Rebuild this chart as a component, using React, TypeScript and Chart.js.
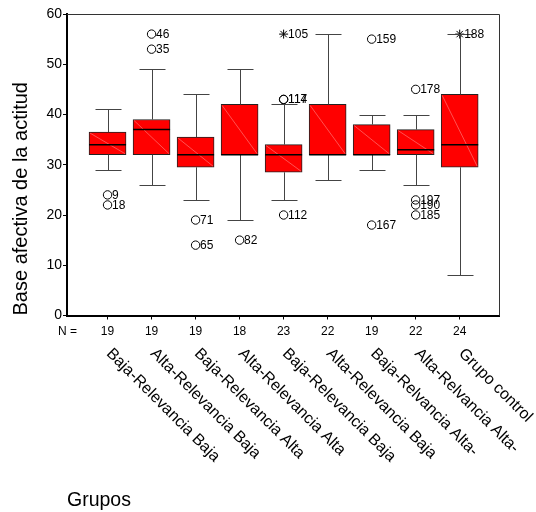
import React, { useEffect, useRef } from 'react';
import { Chart, registerables } from 'chart.js';

Chart.register(...registerables);

const FONT = '"Liberation Sans", Arial, Helvetica, sans-serif';

// ---- data ----
const groups = [
  'Baja-Relevancia Baja',
  'Alta-Relevancia Baja',
  'Baja-Relevancia Alta',
  'Alta-Relevancia Alta',
  'Baja-Relevancia Baja',
  'Alta-Relevancia Baja',
  'Baja-Relvancia Alta-',
  'Alta-Relvancia Alta-',
  'Grupo control',
];
const nCounts = [19, 19, 19, 18, 23, 22, 19, 22, 24];
const whiskerLow = [29, 26, 23, 19, 23, 27, 29, 26, 8];
const q1 = [32, 32, 29.5, 32, 28.5, 32, 32, 32, 29.5];
const median = [34, 37, 32, 32, 32, 32, 32, 33, 34];
const q3 = [36.5, 39, 35.5, 42, 34, 42, 38, 37, 44];
const whiskerHigh = [41, 49, 44, 49, 42, 56, 40, 40, 56];

const outlierGroup = [0, 0, 1, 1, 2, 2, 3, 4, 4, 4, 6, 6, 7, 7, 7, 7];
const outlierValue = [24, 22, 56, 53, 19, 14, 15, 43, 43, 20, 55, 18, 45, 23, 22, 20];
const outlierId = ['9', '18', '46', '35', '71', '65', '82', '117', '114', '112', '159', '167', '178', '197', '190', '185'];

const extremeGroup = [4, 8];
const extremeValue = [56, 56];
const extremeId = ['105', '188'];

const yTicks = [0, 10, 20, 30, 40, 50, 60];
const yTitle = 'Base afectiva de la actitud';
const xTitle = 'Grupos';
const nLabel = 'N =';

const extrasPlugin = {
  id: 'boxExtras',
  afterDatasetsDraw(chart: any) {
    const { ctx, chartArea } = chart;
    const xs = chart.scales.x;
    const ys = chart.scales.y;
    ctx.save();

    const half = 13;
    // whiskers
    ctx.strokeStyle = '#444';
    ctx.lineWidth = 1;
    groups.forEach((_, i) => {
      const cx = Math.round(xs.getPixelForValue(i)) + 0.5;
      const yHi = Math.round(ys.getPixelForValue(whiskerHigh[i])) + 0.5;
      const yLo = Math.round(ys.getPixelForValue(whiskerLow[i])) + 0.5;
      const yQ1 = ys.getPixelForValue(q1[i]);
      const yQ3 = ys.getPixelForValue(q3[i]);
      ctx.beginPath();
      ctx.moveTo(cx, yQ3);
      ctx.lineTo(cx, yHi);
      ctx.moveTo(cx - half, yHi);
      ctx.lineTo(cx + half, yHi);
      ctx.moveTo(cx, yQ1);
      ctx.lineTo(cx, yLo);
      ctx.moveTo(cx - half, yLo);
      ctx.lineTo(cx + half, yLo);
      ctx.stroke();
    });

    // faint diagonal inside boxes + median
    const boxMeta = chart.getDatasetMeta(0);
    boxMeta.data.forEach((bar: any, i: number) => {
      const w = bar.width;
      const left = bar.x - w / 2 + 1;
      const right = bar.x + w / 2 - 1;
      const top = ys.getPixelForValue(q3[i]) + 1;
      const bottom = ys.getPixelForValue(q1[i]) - 1;
      ctx.strokeStyle = 'rgba(255,150,150,0.9)';
      ctx.lineWidth = 0.6;
      ctx.beginPath();
      ctx.moveTo(left, top);
      ctx.lineTo(right, bottom);
      ctx.stroke();
      const my = ys.getPixelForValue(median[i]);
      ctx.strokeStyle = '#000';
      ctx.lineWidth = 1.5;
      ctx.beginPath();
      ctx.moveTo(bar.x - w / 2, my);
      ctx.lineTo(bar.x + w / 2, my);
      ctx.stroke();
    });

    // outlier / extreme labels
    ctx.fillStyle = '#000';
    ctx.font = `12px ${FONT}`;
    ctx.textAlign = 'left';
    ctx.textBaseline = 'middle';
    outlierId.forEach((id, k) => {
      const px = xs.getPixelForValue(outlierGroup[k]);
      const py = ys.getPixelForValue(outlierValue[k]);
      ctx.fillText(id, px + 4.5, py + 0.5);
    });
    extremeId.forEach((id, k) => {
      const px = xs.getPixelForValue(extremeGroup[k]);
      const py = ys.getPixelForValue(extremeValue[k]);
      ctx.fillText(id, px + 4.5, py + 0.5);
    });

    // top / right frame
    ctx.strokeStyle = '#333';
    ctx.lineWidth = 1;
    ctx.beginPath();
    ctx.moveTo(chartArea.left, Math.round(chartArea.top) + 0.5);
    ctx.lineTo(Math.round(chartArea.right) + 0.5, Math.round(chartArea.top) + 0.5);
    ctx.lineTo(Math.round(chartArea.right) + 0.5, chartArea.bottom);
    ctx.stroke();

    // "N =" label
    ctx.font = `12px ${FONT}`;
    ctx.textAlign = 'left';
    ctx.textBaseline = 'middle';
    ctx.fillText(nLabel, 58, chartArea.bottom + 16.3);

    // rotated category labels
    ctx.font = `16px ${FONT}`;
    ctx.textBaseline = 'top';
    groups.forEach((g, i) => {
      const px = xs.getPixelForValue(i) + 7;
      const py = chartArea.bottom + 30;
      ctx.save();
      ctx.translate(px, py);
      ctx.rotate(Math.PI / 4);
      ctx.fillText(g, 0, 0);
      ctx.restore();
    });

    ctx.restore();
  },
};

export default function App() {
  const ref = useRef<HTMLCanvasElement>(null);

  useEffect(() => {
    const canvas = ref.current;
    if (!canvas) return;
    Chart.defaults.font.family = FONT;
    Chart.defaults.color = '#000';

    const chart = new Chart(canvas, {
      type: 'bar',
      data: {
        datasets: [
          {
            type: 'bar',
            label: 'box',
            data: groups.map((_, i) => ({ x: i, y: [q1[i], q3[i]] })) as any,
            backgroundColor: '#ff0000',
            borderColor: '#222',
            borderWidth: 1,
            borderSkipped: false,
            barThickness: 37,
          } as any,
          {
            type: 'scatter',
            label: 'outliers',
            data: outlierGroup.map((g, k) => ({ x: g, y: outlierValue[k] })),
            pointStyle: 'circle',
            pointRadius: 4.2,
            borderColor: '#000',
            borderWidth: 1,
            backgroundColor: 'rgba(0,0,0,0)',
          } as any,
          {
            type: 'scatter',
            label: 'extremes',
            data: extremeGroup.map((g, k) => ({ x: g, y: extremeValue[k] })),
            pointStyle: 'star',
            pointRadius: 4.5,
            borderColor: '#000',
            borderWidth: 1,
            backgroundColor: 'rgba(0,0,0,0)',
          } as any,
        ],
      },
      options: {
        responsive: false,
        animation: false,
        events: [],
        layout: { padding: { left: 8, top: 14, right: 37, bottom: 0 } },
        plugins: { legend: { display: false }, tooltip: { enabled: false } },
        scales: {
          x: {
            type: 'linear',
            offset: false,
            min: -0.921,
            max: 8.893,
            afterFit: (scale: any) => {
              scale.height = 196.5;
            },
            ticks: {
              stepSize: 1,
              includeBounds: false,
              autoSkip: false,
              maxRotation: 0,
              minRotation: 0,
              padding: 5,
              color: '#000',
              font: { size: 12, family: FONT },
              callback: (v: any) => {
                const i = Number(v);
                return Number.isInteger(i) && i >= 0 && i < nCounts.length ? String(nCounts[i]) : '';
              },
            },
            grid: {
              display: true,
              offset: false,
              drawOnChartArea: false,
              drawTicks: true,
              tickLength: 4,
              color: '#000',
            },
            border: { display: true, color: '#000', width: 2 },
            title: {
              display: true,
              text: xTitle,
              align: 'start',
              color: '#000',
              font: { size: 19.5, family: FONT },
              padding: { top: 0, bottom: 0 },
            },
          },
          y: {
            type: 'linear',
            min: 0,
            max: 60,
            afterFit: (scale: any) => {
              scale.width = 59;
            },
            afterBuildTicks: (scale: any) => {
              scale.ticks = yTicks.map((v) => ({ value: v }));
            },
            ticks: {
              padding: 1,
              color: '#000',
              font: { size: 14, family: FONT },
            },
            grid: {
              display: true,
              drawOnChartArea: false,
              drawTicks: true,
              tickLength: 4,
              color: '#000',
            },
            border: { display: true, color: '#000', width: 2 },
            title: {
              display: true,
              text: yTitle,
              align: 'start',
              color: '#000',
              font: { size: 20, family: FONT },
              padding: { top: 1, bottom: 0 },
            },
          },
        },
      } as any,
      plugins: [extrasPlugin],
    });

    return () => chart.destroy();
  }, []);

  return (
    <div style={{ position: 'absolute', left: 0, top: 0, width: 536, height: 512, background: '#fff' }}>
      <canvas ref={ref} width={536} height={512} style={{ display: 'block' }} />
    </div>
  );
}
